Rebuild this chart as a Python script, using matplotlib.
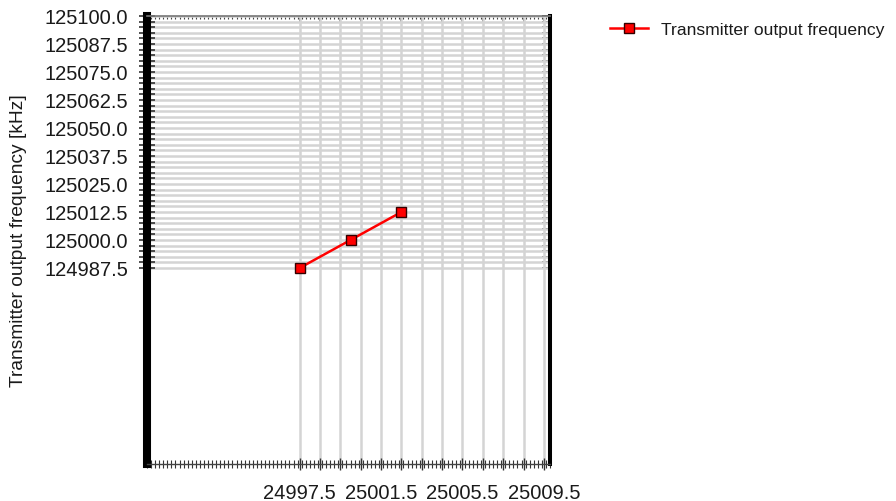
import numpy as np
import matplotlib
matplotlib.use("Agg")
import matplotlib.pyplot as plt
from matplotlib.ticker import FixedLocator, FixedFormatter, MultipleLocator

plt.rcParams['font.family'] = ['Liberation Sans', 'DejaVu Sans']

# Data
x_vals = [24997.5, 25000.0, 25002.5]
y_vals = [124987.5, 125000.0, 125012.5]
series_name = "Transmitter output frequency"
y_label = "Transmitter output frequency [kHz]"

x_major = [24997.5 + i for i in range(13)]
x_labels = ["24997.5", "25001.5", "25005.5", "25009.5"]
y_major = [124987.5 + 2.5 * i for i in range(46)]
y_labels = ["124987.5", "125000.0", "125012.5", "125025.0", "125037.5",
            "125050.0", "125062.5", "125075.0", "125087.5", "125100.0"]

W, H = 896, 502
fig = plt.figure(figsize=(W / 100, H / 100), dpi=100)
L, R, T, B = 147, 550, 17, 465
ax = fig.add_axes([L / W, 1 - B / H, (R - L) / W, (B - T) / H])
ax.set_xlim(24990.0, 25009.8)
ax.set_ylim(124900.0, 125100.0)

txt = '#1a1a1a'
grid_c = '#d4d4d4'

# x ticks
ax.xaxis.set_major_locator(FixedLocator(x_major))
ax.xaxis.set_major_formatter(FixedFormatter(
    [f"{v:.1f}" if f"{v:.1f}" in x_labels else "" for v in x_major]))
ax.xaxis.set_minor_locator(MultipleLocator(0.2))
ax.tick_params(axis='x', which='major', direction='inout', length=9, width=1.0,
               color='#333333', labelsize=14.5, labelcolor=txt, pad=9.5)
ax.tick_params(axis='x', which='minor', direction='inout', length=6, width=0.8,
               color='#333333')

# y ticks
ax.yaxis.set_major_locator(FixedLocator(y_major))
ax.yaxis.set_major_formatter(FixedFormatter(
    [f"{v:.1f}" if f"{v:.1f}" in y_labels else "" for v in y_major]))
ax.tick_params(axis='y', which='major', direction='inout', length=11, width=1.2,
               color='#333333', labelsize=14.5, labelcolor=txt, pad=8.2)

ax.grid(True, which='major', color=grid_c, linewidth=1.8, zorder=0)
ax.set_axisbelow(True)

# spines
ax.spines['left'].set_linewidth(5.8)
ax.spines['left'].set_color('black')
ax.spines['right'].set_linewidth(2.9)
ax.spines['right'].set_color('black')
ax.spines['top'].set_linewidth(1.2)
ax.spines['top'].set_color('#777777')
ax.spines['bottom'].set_linewidth(1.0)
ax.spines['bottom'].set_color('#444444')

# top ticks
sec_top = ax.secondary_xaxis('top')
sec_top.xaxis.set_major_locator(FixedLocator(x_major))
sec_top.xaxis.set_minor_locator(MultipleLocator(0.2))
sec_top.tick_params(which='major', direction='in', length=5, width=1.2, color='#222222',
                    labeltop=False)
sec_top.tick_params(which='minor', direction='in', length=2.5, width=0.8, color='#444444')
sec_top.spines['top'].set_visible(False)

# right ticks
sec_r = ax.secondary_yaxis('right')
sec_r.yaxis.set_major_locator(FixedLocator(y_major))
sec_r.tick_params(which='major', direction='in', length=6, width=1.2, color='#222222',
                  labelright=False)
sec_r.spines['right'].set_visible(False)

ax.plot(x_vals, y_vals, color='#ff0000', linewidth=1.8, marker='s', markersize=7.5,
        markerfacecolor='#ff0000', markeredgecolor='#330000', markeredgewidth=1.0,
        label=series_name, zorder=5, clip_on=False)

ax.set_ylabel(y_label, fontsize=13.8, color=txt)
ax.yaxis.set_label_coords((27 - L) / (R - L), 0.5)

fig.legend(loc='upper left', bbox_to_anchor=(0.663, 0.986), frameon=False,
           fontsize=12.6, handlelength=2.2, handletextpad=0.7, labelcolor=txt)

fig.savefig('out.png', dpi=100)
